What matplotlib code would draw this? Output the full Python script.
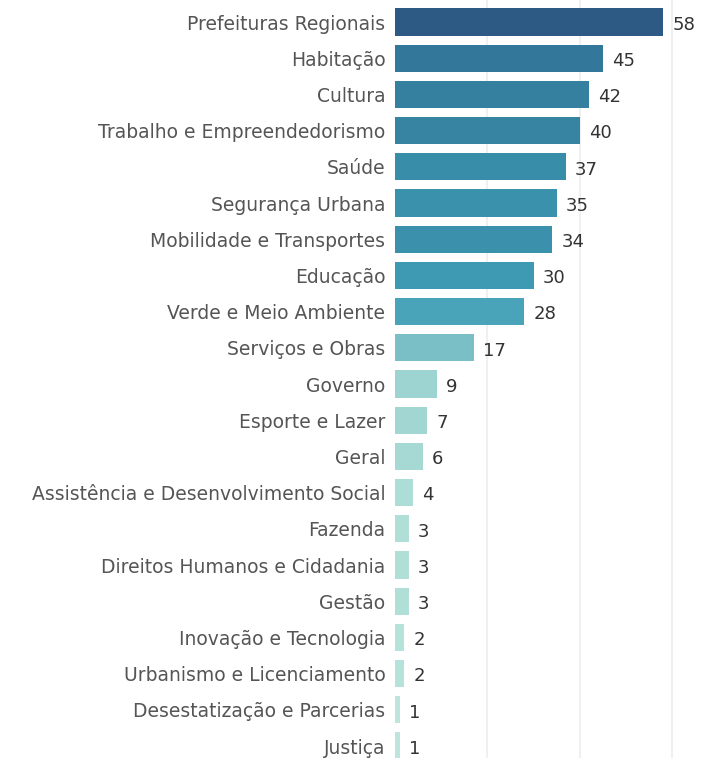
import matplotlib
matplotlib.use("Agg")
import matplotlib.pyplot as plt

categories = ["Prefeituras Regionais", "Habitação", "Cultura", "Trabalho e Empreendedorismo",
              "Saúde", "Segurança Urbana", "Mobilidade e Transportes", "Educação",
              "Verde e Meio Ambiente", "Serviços e Obras", "Governo", "Esporte e Lazer",
              "Geral", "Assistência e Desenvolvimento Social", "Fazenda",
              "Direitos Humanos e Cidadania", "Gestão", "Inovação e Tecnologia",
              "Urbanismo e Licenciamento", "Desestatização e Parcerias", "Justiça"]
values = [58, 45, 42, 40, 37, 35, 34, 30, 28, 17, 9, 7, 6, 4, 3, 3, 3, 2, 2, 1, 1]
colors = ["#2c5a85", "#33789b", "#35809f", "#3784a2", "#388da9", "#3a91ac", "#3b91ab",
          "#3e9ab3", "#49a4b9", "#7bbfc6", "#9dd4d1", "#a1d6d2", "#a6d9d4", "#acddd6",
          "#b0dfd8", "#b0dfd8", "#b0dfd8", "#b5e2da", "#b5e2da", "#bde5dd", "#bde5dd"]
grid_ticks = [20, 40, 60]

plt.rcParams['font.family'] = ['DejaVu Sans']
fig = plt.figure(figsize=(7.02, 7.58), dpi=100)
ax = fig.add_axes([395/702, 0, 307/702, 1])

y = list(range(len(categories)))
ax.barh(y, values, height=0.75, color=colors, zorder=2)
for yi, v in zip(y, values):
    ax.annotate(str(v), (v, yi), xytext=(6.5, -2), textcoords="offset points",
                va="center", ha="left", fontsize=13, color="#333333")

ax.set_xlim(0, 66.4)
ax.set_ylim(20.33, -0.608)
ax.set_xticks(grid_ticks)
ax.set_xticklabels([])
ax.tick_params(axis="x", length=0)
ax.grid(axis="x", color="#f0f0f0", linewidth=1.5, zorder=0)
ax.set_yticks(y)
ax.set_yticklabels(categories, fontsize=13.5, color="#555555")
ax.tick_params(axis="y", length=0, pad=7)
for s in ax.spines.values():
    s.set_visible(False)

fig.savefig("out.png", dpi=100)
